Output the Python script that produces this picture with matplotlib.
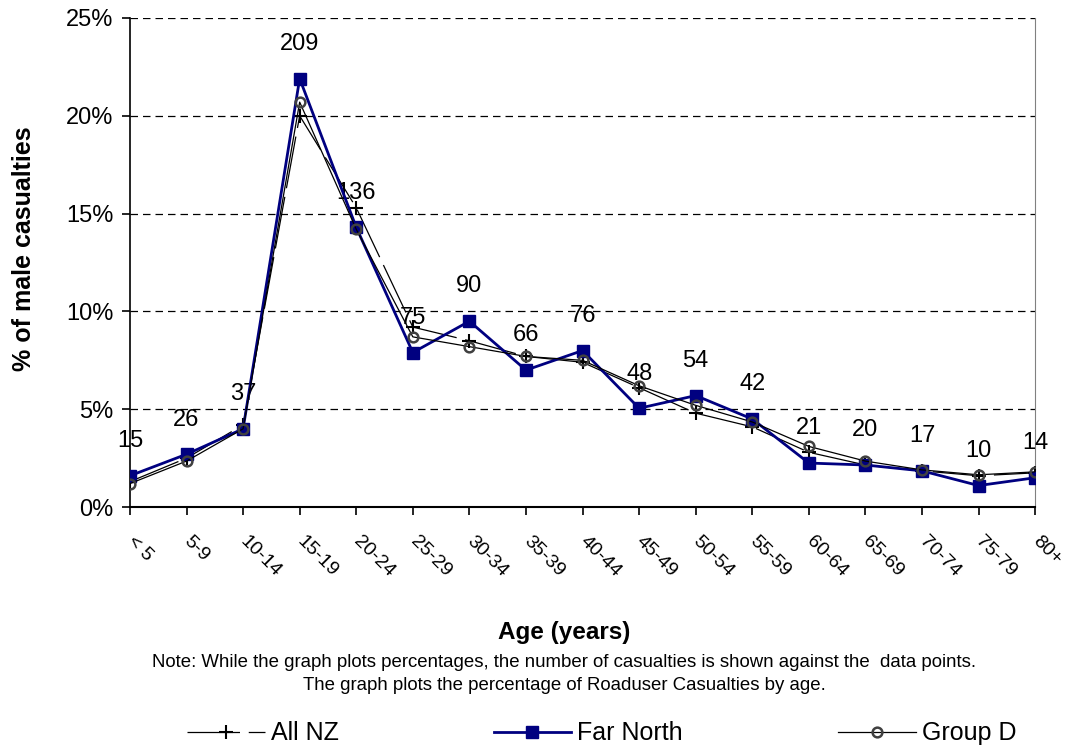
import numpy as np
import matplotlib
matplotlib.use("Agg")
import matplotlib.pyplot as plt
from matplotlib.ticker import FuncFormatter

plt.rcParams['font.family'] = ['Liberation Sans', 'DejaVu Sans']

ages = ['< 5', '5-9', '10-14', '15-19', '20-24', '25-29', '30-34', '35-39', '40-44',
        '45-49', '50-54', '55-59', '60-64', '65-69', '70-74', '75-79', '80+']
all_nz = [1.3, 2.5, 4.2, 20.0, 15.3, 9.2, 8.5, 7.7, 7.4, 6.1, 4.8, 4.1, 2.8, 2.15, 1.85, 1.6, 1.75]
far_north = [1.6, 2.7, 4.0, 21.9, 14.3, 7.9, 9.5, 7.0, 8.0, 5.05, 5.7, 4.5, 2.25, 2.15, 1.85, 1.1, 1.5]
group_d = [1.2, 2.35, 4.0, 20.7, 14.2, 8.7, 8.2, 7.7, 7.5, 6.2, 5.2, 4.35, 3.1, 2.35, 1.9, 1.65, 1.8]
counts = [15, 26, 37, 209, 136, 75, 90, 66, 76, 48, 54, 42, 21, 20, 17, 10, 14]

fig = plt.figure(figsize=(10.65, 7.49), dpi=100)
ax = fig.add_axes([0.122, 0.323, 0.850, 0.653])

x = np.arange(len(ages))

ax.plot(x, all_nz, color='black', linewidth=0.9, dashes=(42, 7),
        marker='+', markersize=10, markeredgewidth=1.5, label='All NZ', zorder=3)
ax.plot(x, far_north, color='#000080', linewidth=2, marker='s', markersize=9,
        label='Far North', zorder=4)
ax.plot(x, group_d, color='black', linewidth=0.9, marker='o', markersize=7,
        markerfacecolor='none', markeredgecolor='#404040', markeredgewidth=1.8,
        label='Group D', zorder=5)

for xi, yi, c in zip(x, far_north, counts):
    ax.annotate(str(c), (xi, yi), xytext=(0, 25), textcoords='offset points',
                ha='center', va='center', fontsize=17)

ax.set_xlim(0, len(ages) - 1)
ax.set_ylim(0, 25)
ax.set_yticks(np.arange(0, 26, 5))
ax.yaxis.set_major_formatter(FuncFormatter(lambda v, p: f'{v:.0f}%'))
ax.grid(axis='y', color='black', linestyle=(0, (6, 4)), linewidth=0.9)
ax.set_axisbelow(True)

ax.set_xticks(x)
ax.set_xticklabels(ages, rotation=-45, ha='left', va='center', rotation_mode='anchor')
ax.tick_params(axis='x', length=6, width=1.2, labelsize=14, pad=17)
ax.tick_params(axis='y', length=6, width=1.2, labelsize=17, pad=6)

ax.spines['top'].set_visible(False)
ax.spines['right'].set_color('#808080')
ax.spines['left'].set_linewidth(1.2)
ax.spines['bottom'].set_linewidth(1.5)

ax.set_ylabel('% of male casualties', fontsize=18, fontweight='bold')
ax.yaxis.set_label_coords(-0.1035, 0.528)
fig.text(0.530, 0.156, 'Age (years)', ha='center', va='center', fontsize=17.5, fontweight='bold')
fig.text(0.530, 0.115, 'Note: While the graph plots percentages, the number of casualties is shown against the  data points.',
         ha='center', va='center', fontsize=13.4)
fig.text(0.530, 0.085, 'The graph plots the percentage of Roaduser Casualties by age.',
         ha='center', va='center', fontsize=13.4)

fig.legend(loc='center', bbox_to_anchor=(0.565, 0.021), ncol=3, frameon=False,
           fontsize=18, handlelength=3.1, columnspacing=6.2, handletextpad=0.25)

fig.savefig('out.png', dpi=100)
